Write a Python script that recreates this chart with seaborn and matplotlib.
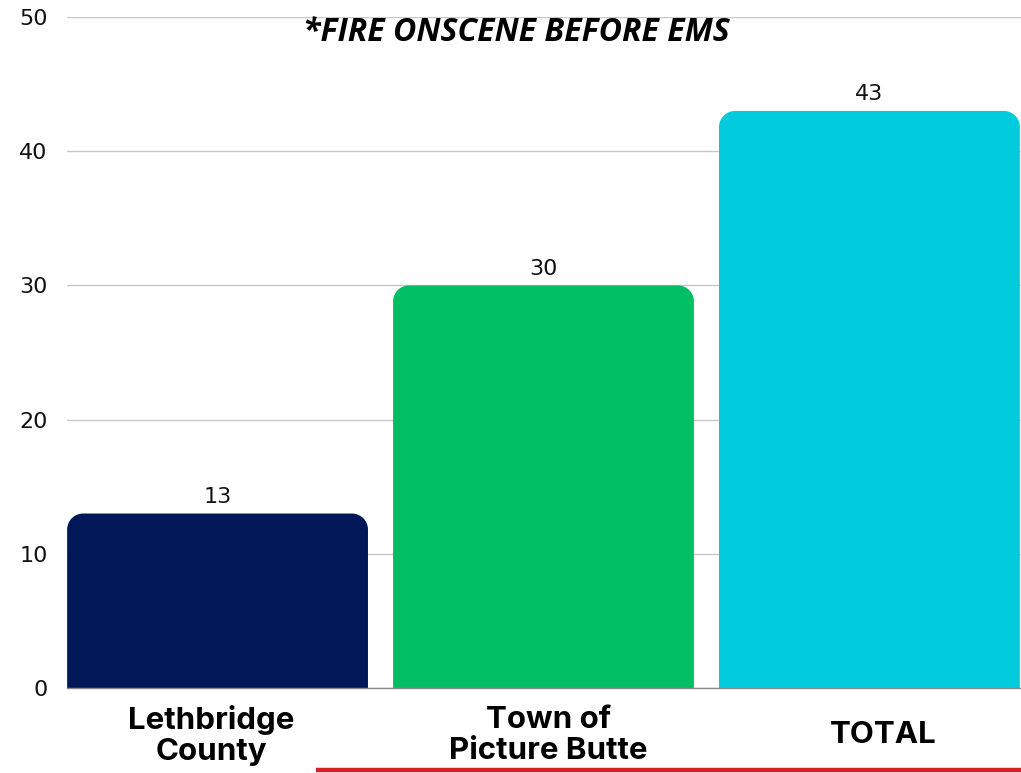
import numpy as np
import pandas as pd
import matplotlib
matplotlib.use("Agg")
import matplotlib.pyplot as plt
import matplotlib.transforms as mtransforms
from matplotlib.path import Path
from matplotlib.patches import PathPatch
from matplotlib.lines import Line2D
import seaborn as sns

# data
categories = ["Lethbridge\nCounty", "Town of\nPicture Butte", "TOTAL"]
values = [13, 30, 43]
bar_colors = ["#021757", "#00BF63", "#00CBDC"]
title_text = "*FIRE ONSCENE BEFORE EMS"


def rounded_top_path(x0, x1, h, rx, ry):
    """Bar outline with the two top corners rounded."""
    k = 0.5523
    verts = [
        (x0, 0), (x0, h - ry),
        (x0, h - ry + k * ry), (x0 + rx - k * rx, h), (x0 + rx, h),
        (x1 - rx, h),
        (x1 - rx + k * rx, h), (x1, h - ry + k * ry), (x1, h - ry),
        (x1, 0), (x0, 0),
    ]
    codes = [Path.MOVETO, Path.LINETO,
             Path.CURVE4, Path.CURVE4, Path.CURVE4,
             Path.LINETO,
             Path.CURVE4, Path.CURVE4, Path.CURVE4,
             Path.LINETO, Path.CLOSEPOLY]
    return Path(verts, codes)


sns.set_style("white")
plt.rcParams["font.family"] = ["DejaVu Sans"]

df = pd.DataFrame({"category": categories, "value": values})

fig = plt.figure(figsize=(10.21, 7.73), dpi=100)
ax = fig.add_axes([0.0656, 0.110, 0.9344, 0.868])

sns.barplot(data=df, x="category", y="value", hue="category",
            palette=bar_colors, width=0.923, legend=False, ax=ax,
            saturation=1)

ax.set_xlim(-0.462, 2.465)
ax.set_ylim(0, 50)
ax.set_yticks(range(0, 51, 10))
ax.grid(axis="y", color="#c8c8c8", linewidth=1)
ax.set_axisbelow(True)
sns.despine(ax=ax, left=True, top=True, right=True)
ax.spines["bottom"].set_color("#888888")
ax.spines["bottom"].set_linewidth(1)
ax.set_xlabel("")
ax.set_ylabel("")
ax.tick_params(axis="y", length=0, pad=14, labelsize=16, labelcolor="#111111")
ax.tick_params(axis="x", length=0, pad=34)

# labels in the reference sit a little off the bar centres
label_shift_px = [-6, 5, 14]
for lbl, dx in zip(ax.get_xticklabels(), label_shift_px):
    lbl.set_fontfamily(["Inter", "DejaVu Sans"])
    lbl.set_fontweight("bold")
    lbl.set_fontsize(22.5)
    lbl.set_color("#000000")
    lbl.set_linespacing(1.12)
    lbl.set_verticalalignment("center")
    lbl.set_transform(lbl.get_transform() +
                      mtransforms.ScaledTranslation(dx / 100, 0, fig.dpi_scale_trans))

# swap square bars for rounded-top ones
fig.canvas.draw()
p0 = ax.transData.transform((0, 0))
p1 = ax.transData.transform((1, 1))
radius_px = 16
rx = radius_px / (p1[0] - p0[0])
ry = radius_px / (p1[1] - p0[1])
for bar in list(ax.patches):
    x0 = bar.get_x()
    x1 = x0 + bar.get_width()
    h = bar.get_height()
    patch = PathPatch(rounded_top_path(x0, x1, h, rx, ry),
                      facecolor=bar.get_facecolor(), edgecolor="none",
                      zorder=2)
    ax.add_patch(patch)
    bar.set_visible(False)
    ax.text((x0 + x1) / 2, h + 0.5, f"{int(h)}", ha="center", va="bottom",
            fontsize=16, color="#111111")

fig.text(0.506, 0.958, title_text, ha="center", va="center",
         family=["Open Sans", "DejaVu Sans"],
         fontsize=23, fontweight="bold", fontstyle="italic", color="#000000")

fig.add_artist(Line2D([316 / 1021, 1.0], [1 - 770 / 773] * 2,
                      transform=fig.transFigure, color="#D91F26",
                      linewidth=3.2, solid_capstyle="butt"))

fig.savefig("out.png", dpi=100)
